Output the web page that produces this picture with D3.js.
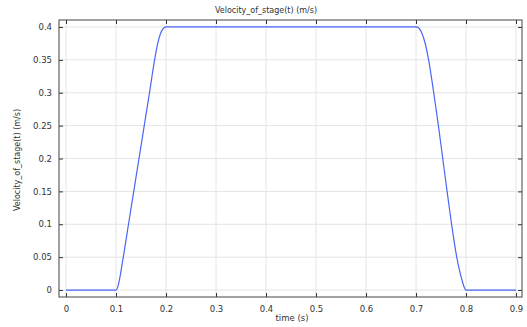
<!DOCTYPE html>
<html>
<head>
<meta charset="utf-8">
<script src="https://cdn.jsdelivr.net/npm/d3@7"></script>
<style>
  body { margin: 0; background: white; }
  text { font-family: "DejaVu Sans", sans-serif; fill: #333; }
</style>
</head>
<body>
<svg id="chart"></svg>
<script>
// time (s) and velocity (m/s)
let times = [0, 0.1, 0.104, 0.108, 0.1115, 0.115, 0.125, 0.1355, 0.146, 0.1565, 0.167, 0.1772, 0.1835, 0.189, 0.194, 0.2,
  0.7, 0.706, 0.712, 0.718, 0.7252, 0.7355, 0.7448, 0.7535, 0.7622, 0.7712, 0.7815, 0.787, 0.792, 0.796, 0.8, 0.9];
let velocity = [0, 0, 0.006, 0.02, 0.036, 0.052, 0.1, 0.15, 0.2, 0.25, 0.3, 0.35, 0.375, 0.39, 0.397, 0.4,
  0.4, 0.398, 0.39, 0.376, 0.35, 0.3, 0.25, 0.2, 0.15, 0.1, 0.05, 0.03, 0.015, 0.005, 0, 0];
let xTicks = [0, 0.1, 0.2, 0.3, 0.4, 0.5, 0.6, 0.7, 0.8, 0.9];
let yTicks = [0, 0.05, 0.1, 0.15, 0.2, 0.25, 0.3, 0.35, 0.4];

let data = times.map((t, i) => ({ t: t, v: velocity[i] }));

function createGraph() {
  let width = 527;
  let height = 327;
  let margin = { top: 20, bottom: 30, left: 59, right: 5 };

  let svg = d3.select('#chart')
    .attr('width', width)
    .attr('height', height);
  svg.selectAll('*').remove();

  let xScale = d3.scaleLinear()
    .domain([-0.014, 0.912])
    .range([margin.left, width - margin.right]);

  let yScale = d3.scaleLinear()
    .domain([-0.0106, 0.4106])
    .range([height - margin.bottom, margin.top]);

  // grid
  svg.append('g')
    .selectAll('line')
    .data(xTicks)
    .enter()
    .append('line')
    .attr('x1', d => xScale(d)).attr('x2', d => xScale(d))
    .attr('y1', margin.top).attr('y2', height - margin.bottom)
    .attr('stroke', '#e4e4e4');

  svg.append('g')
    .selectAll('line')
    .data(yTicks)
    .enter()
    .append('line')
    .attr('y1', d => yScale(d)).attr('y2', d => yScale(d))
    .attr('x1', margin.left).attr('x2', width - margin.right)
    .attr('stroke', '#e4e4e4');

  // axes, ticks pointing inwards
  let fmt = d3.format('~g');
  svg.append('g')
    .attr('transform', `translate(0, ${height - margin.bottom})`)
    .call(d3.axisBottom(xScale).tickValues(xTicks).tickFormat(fmt).tickSizeInner(-4).tickSizeOuter(0).tickPadding(9))
    .call(g => g.select('.domain').remove());

  svg.append('g')
    .attr('transform', `translate(0, ${margin.top})`)
    .call(d3.axisTop(xScale).tickValues(xTicks).tickFormat('').tickSizeInner(-4).tickSizeOuter(0))
    .call(g => g.select('.domain').remove());

  svg.append('g')
    .attr('transform', `translate(${margin.left}, 0)`)
    .call(d3.axisLeft(yScale).tickValues(yTicks).tickFormat(fmt).tickSizeInner(-4).tickSizeOuter(0).tickPadding(7))
    .call(g => g.select('.domain').remove());

  svg.append('g')
    .attr('transform', `translate(${width - margin.right}, 0)`)
    .call(d3.axisRight(yScale).tickValues(yTicks).tickFormat('').tickSizeInner(-4).tickSizeOuter(0))
    .call(g => g.select('.domain').remove());

  svg.selectAll('.tick line').attr('stroke', '#333');
  svg.selectAll('.tick text')
    .style('font-family', '"DejaVu Sans", sans-serif')
    .style('font-size', '8.5px')
    .style('fill', '#333');

  // frame
  svg.append('rect')
    .attr('x', margin.left)
    .attr('y', margin.top)
    .attr('width', width - margin.left - margin.right)
    .attr('height', height - margin.top - margin.bottom)
    .attr('fill', 'none')
    .attr('stroke', '#444');

  // line
  svg.append('path')
    .datum(data)
    .attr('fill', 'none')
    .attr('stroke', '#4a66f5')
    .attr('stroke-width', 1.2)
    .attr('d', d3.line().x(d => xScale(d.t)).y(d => yScale(d.v)).curve(d3.curveMonotoneX));

  // labels
  svg.append('text')
    .attr('x', 266)
    .attr('y', 13)
    .text('Velocity_of_stage(t) (m/s)')
    .style('text-anchor', 'middle')
    .style('font-size', '8px');

  svg.append('text')
    .attr('x', 292)
    .attr('y', 321)
    .text('time (s)')
    .style('text-anchor', 'middle')
    .style('font-size', '8.5px');

  svg.append('text')
    .attr('transform', 'translate(20, 160) rotate(-90)')
    .text('Velocity_of_stage(t) (m/s)')
    .style('text-anchor', 'middle')
    .style('font-size', '8px');
}

createGraph();
</script>
</body>
</html>
